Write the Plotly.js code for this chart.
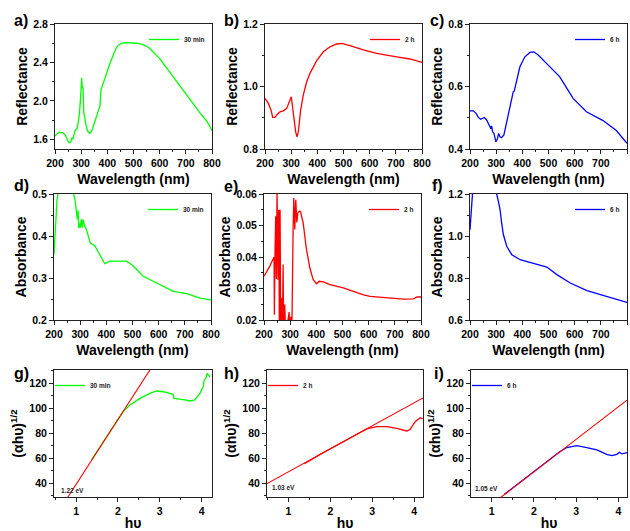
<!DOCTYPE html>
<html><head><meta charset="utf-8">
<script src="https://cdn.plot.ly/plotly-3.0.1.min.js"></script>
<style>html,body{margin:0;padding:0;background:#fff}#chart{width:630px;height:531px}</style>
</head><body><div id="chart"></div>
<script>
// ---------- DATA ----------
// a) Reflectance, 30 min
const aWave = [200,208,217,225,232,240,245,251,256,260,264,268,273,276,280,285,289,293,297,299,302,304,305,307,310,314,318,323,327,332,336,342,348,353,360,366,372,374,376,385,397,410,423,432,442,455,474,490,512,530,544,560,576,600,627,660,690,720,754,780,800];
const aRefl = [1.634,1.66,1.676,1.674,1.665,1.64,1.60,1.572,1.565,1.57,1.617,1.60,1.65,1.69,1.70,1.72,1.78,1.86,2.0,2.15,2.24,2.13,2.15,2.14,1.88,1.80,1.755,1.70,1.676,1.665,1.67,1.70,1.75,1.807,1.85,1.90,1.95,2.05,2.117,2.19,2.29,2.39,2.48,2.54,2.58,2.60,2.607,2.605,2.60,2.59,2.576,2.55,2.51,2.44,2.34,2.22,2.10,1.99,1.876,1.79,1.692];
// b) Reflectance, 2 h
const bWave = [200,212.7,223,229.3,238.2,244.6,257.3,270,282.8,291.7,300.6,304.5,310.8,317.2,322.3,327.4,336.3,346.5,359.2,372,397.5,423,448.4,474,493,524.8,575.8,626.8,703.2,754,800];
const bRefl = [0.962,0.946,0.925,0.901,0.901,0.909,0.919,0.922,0.93,0.946,0.967,0.94,0.893,0.855,0.839,0.855,0.925,0.973,1.015,1.042,1.083,1.111,1.127,1.136,1.138,1.131,1.117,1.106,1.095,1.088,1.077];
// c) Reflectance, 6 h
const cWave = [200,212.7,222.9,231.8,240.7,248.3,254.7,263.6,273.7,280,282.6,286.4,291.5,299.1,304.2,309.3,314.4,320.7,329.6,339.8,352.5,365.2,369,371.6,378,390.7,409.7,428.8,444,460.6,492.3,543.2,594,644.9,708.4,759.2,800];
const cRefl = [0.522,0.522,0.514,0.501,0.495,0.497,0.501,0.493,0.477,0.465,0.474,0.455,0.45,0.423,0.431,0.45,0.439,0.436,0.445,0.482,0.535,0.583,0.585,0.594,0.621,0.663,0.695,0.709,0.711,0.701,0.674,0.631,0.562,0.519,0.491,0.459,0.418];
// d) Absorbance, 30 min
const dWave = [200,206,211.5,215,218,240,265,275,280,285.5,289,292,294.5,298,301,304.7,308.5,311,317.5,324,330,339,355.7,368.5,381,394,403,413,440,477,502,541,592,656,707,758,800];
const dAbs  = [0.356,0.439,0.487,0.5,0.52,0.56,0.55,0.5,0.487,0.459,0.44,0.461,0.419,0.43,0.42,0.44,0.42,0.439,0.423,0.415,0.403,0.383,0.377,0.363,0.348,0.334,0.337,0.34,0.34,0.34,0.329,0.304,0.288,0.268,0.263,0.252,0.248];
// e) Absorbance, 2 h
const eWave = [200,221.7,238.4,239.7,242.2,244.8,247.3,249.9,253.7,256.3,258.8,261.4,264,266.5,270.4,272.9,275.5,279.3,283.2,296,298.5,302.3,306.2,311.3,313.9,317.7,321.5,325.4,329.2,334.3,339.4,349.7,362.5,375.3,388,400.8,411,426.4,452,503,554.4,580,605.5,669.5,733.5,771.8,784.5,800];
const eAbs  = [0.0339,0.037,0.040,0.0217,0.042,0.0529,0.033,0.061,0.0328,0.055,0.015,0.055,0.015,0.027,0.015,0.0376,0.015,0.0249,0.015,0.0225,0.015,0.021,0.015,0.0487,0.0587,0.0487,0.0582,0.051,0.054,0.0545,0.0545,0.0508,0.0423,0.0365,0.0328,0.0315,0.0323,0.0321,0.0312,0.0302,0.0286,0.028,0.0275,0.027,0.0266,0.0267,0.0273,0.0273];
// f) Absorbance, 6 h
const fWave = [200,203.8,209,215,300,302,311,315,321,327.7,340.4,359.6,391.5,442.6,493.6,532,583,646.8,710.6,800];
const fAbs  = [1.03,1.125,1.2,1.3,1.3,1.2,1.149,1.125,1.062,1.006,0.951,0.911,0.887,0.871,0.852,0.816,0.776,0.74,0.716,0.684];
// g) Tauc, 30 min
const gHv = [1.37,1.6,1.8,2.0,2.125,2.285,2.524,2.763,2.923,3.083,3.2,3.32,3.338,3.48,3.6,3.72,3.84,3.96,4.04,4.064,4.1,4.136,4.18,4.2];
const gAh = [59,70.4,80.7,91.1,97.4,102.7,108,112,113.9,113.3,112.3,111.2,108,107.5,106.7,105.9,106.7,112,117.3,122.7,124,128,125.3,125];
const gFitHv = [0.8,2.8];
const gFitAh = [28.8,132.6];
// h) Tauc, 2 h
const hHv = [1.38,1.6,1.8,2.0,2.2,2.4,2.63,2.87,3.109,3.347,3.586,3.825,3.9,4.024,4.143,4.2];
const hAh = [55.6,60.3,63.9,67.6,71.3,75,79.0,83.5,85.3,85.3,84,81.9,83,89.3,92.5,91.5];
const hFitHv = [0.49,4.21];
const hFitAh = [39.8,108.3];
// i) Tauc, 6 h
const iHv = [1.3,1.5,1.7,1.9,2.1,2.3,2.46,2.6,2.776,3.013,3.25,3.487,3.72,3.84,3.96,4.024,4.08,4.14,4.2];
const iAh = [31.2,36.5,41.7,46.9,52.1,57.3,61.5,65,68.6,70.1,68.5,66.7,63.2,62.1,63.2,64.8,63.5,63.8,64.5];
const iFitHv = [1.2,4.2];
const iFitAh = [28.3,106.6];
// labels
const seriesNames = ['30 min','2 h','6 h'];
const gapLabels = ['1.22 eV','1.03 eV','1.05 eV'];
const panelLetters = ['a)','b)','c)','d)','e)','f)','g)','h)','i)'];

// ---------- STYLE / LAYOUT ----------
const W = 630, H = 531;
const fx = v => v / W, fy = v => 1 - v / H;
const colors = ['#00ff00', '#ff0000', '#0000ff'];
const FONT = 'Liberation Sans, Arial, sans-serif';

const panels = [
  {x:aWave, y:aRefl, xd:[55,212],  yd:[24,149],  xr:[200,800], yr:[1.5,2.8], ydt:0.4, yt0:1.6, yf:'.1f', c:0, kind:'w', yt:'Reflectance'},
  {x:bWave, y:bRefl, xd:[265,422], yd:[24,149],  xr:[200,800], yr:[0.8,1.2], ydt:0.2, yt0:0.8, yf:'.1f', c:1, kind:'w', yt:'Reflectance'},
  {x:cWave, y:cRefl, xd:[470,627], yd:[24,149],  xr:[200,800], yr:[0.4,0.8], ydt:0.2, yt0:0.4, yf:'.1f', c:2, kind:'w', yt:'Reflectance'},
  {x:dWave, y:dAbs,  xd:[54,211],  yd:[194,320], xr:[200,800], yr:[0.2,0.5], ydt:0.1, yt0:0.2, yf:'.1f', c:0, kind:'w', yt:'Absorbance'},
  {x:eWave, y:eAbs,  xd:[264,421], yd:[194,320], xr:[200,800], yr:[0.02,0.06], ydt:0.01, yt0:0.02, yf:'.2f', c:1, kind:'w', yt:'Absorbance'},
  {x:fWave, y:fAbs,  xd:[470,627], yd:[194,320], xr:[200,800], yr:[0.6,1.2], ydt:0.2, yt0:0.6, yf:'.1f', c:2, kind:'w', yt:'Absorbance'},
  {x:gHv, y:gAh, fx:gFitHv, fy:gFitAh, xd:[54,212],  yd:[370,497], xr:[0.47,4.25], yr:[29,130.7], ydt:20, yt0:40, yf:'d', c:0, kind:'t', yt:'(αhυ)<sup>1/2</sup>'},
  {x:hHv, y:hAh, fx:hFitHv, fy:hFitAh, xd:[267,423], yd:[370,497], xr:[0.49,4.21], yr:[29,130.7], ydt:20, yt0:40, yf:'d', c:1, kind:'t', yt:'(αhυ)<sup>1/2</sup>'},
  {x:iHv, y:iAh, fx:iFitHv, fy:iFitAh, xd:[471,627], yd:[370,497], xr:[0.51,4.2],  yr:[29,130.7], ydt:20, yt0:40, yf:'d', c:2, kind:'t', yt:'(αhυ)<sup>1/2</sup>'}
];
const letterPos = [[12,21],[222,21],[428,21],[12,185],[222,186],[430,185],[12,373],[222,373],[432,373]];
const gapPos = [[72,490],[283,487],[486,488]];

const data = [];
const layout = {
  width: W, height: H, margin: {l:0, r:0, t:0, b:0},
  paper_bgcolor: '#fff', plot_bgcolor: '#fff',
  font: {family: FONT, color: '#000'},
  annotations: [], showlegend: true
};

panels.forEach((p, k) => {
  const n = k + 1, sfx = n === 1 ? '' : String(n);
  const legName = 'legend' + sfx;
  data.push({
    type: 'scatter', mode: 'lines', x: p.x, y: p.y, name: seriesNames[p.c],
    xaxis: 'x' + sfx, yaxis: 'y' + sfx, legend: legName,
    line: {color: colors[p.c], width: 1.3}
  });
  if (p.fx) {
    data.push({
      type: 'scatter', mode: 'lines', x: p.fx, y: p.fy, showlegend: false,
      xaxis: 'x' + sfx, yaxis: 'y' + sfx, line: {color: '#ff0000', width: 1.1}
    });
  }
  const isW = p.kind === 'w';
  layout['xaxis' + sfx] = {
    domain: [fx(p.xd[0]), fx(p.xd[1])], range: p.xr, anchor: 'y' + sfx,
    showgrid: false, zeroline: false, showline: true, linecolor: '#222', linewidth: 1, mirror: true,
    ticks: 'outside', ticklen: 4, tickwidth: 1, tickcolor: '#222',
    tick0: isW ? 200 : 1, dtick: isW ? 100 : 1,
    minor: {ticks: 'outside', ticklen: 2, tickcolor: '#222', dtick: isW ? 50 : 0.5, tick0: isW ? 200 : 1},
    tickfont: {family: FONT, size: 10.5, weight: 'bold', color: '#000'},
    title: {text: isW ? 'Wavelength (nm)' : 'hυ', font: {family: FONT, size: 14, weight: 'bold', color: '#000'}, standoff: isW ? 6 : 10}
  };
  layout['yaxis' + sfx] = {
    domain: [fy(p.yd[1]), fy(p.yd[0])], range: p.yr, anchor: 'x' + sfx,
    showgrid: false, zeroline: false, showline: true, linecolor: '#222', linewidth: 1, mirror: true,
    ticks: 'outside', ticklen: 4, tickwidth: 1, tickcolor: '#222',
    tick0: p.yt0, dtick: p.ydt, tickformat: p.yf,
    minor: {ticks: 'outside', ticklen: 2, tickcolor: '#222', dtick: p.ydt / 2, tick0: p.yt0},
    tickfont: {family: FONT, size: 10.5, weight: 'bold', color: '#000'},
    title: {text: p.yt, font: {family: FONT, size: 14, weight: 'bold', color: '#000'}, standoff: 2}
  };
  layout[legName] = isW
    ? {x: fx(p.xd[1] - 2), y: fy(p.yd[0] + 1), xanchor: 'right', yanchor: 'top', bgcolor: 'rgba(0,0,0,0)', borderwidth: 0,
       font: {family: FONT, size: 6.5, weight: 'bold', color: '#222'}, itemwidth: 30}
    : {x: fx(p.xd[0] - 4), y: fy(p.yd[0] + 1), xanchor: 'left', yanchor: 'top', bgcolor: 'rgba(0,0,0,0)', borderwidth: 0,
       font: {family: FONT, size: 6.5, weight: 'bold', color: '#222'}, itemwidth: 30};
  layout.annotations.push({
    text: panelLetters[k], xref: 'paper', yref: 'paper', x: fx(letterPos[k][0]), y: fy(letterPos[k][1]),
    xanchor: 'left', yanchor: 'middle', showarrow: false,
    font: {family: FONT, size: 16, weight: 'bold', color: '#000'}
  });
  if (!isW) {
    const gi = k - 6;
    layout.annotations.push({
      text: gapLabels[gi], xref: 'paper', yref: 'paper', x: fx(gapPos[gi][0]), y: fy(gapPos[gi][1]),
      xanchor: 'center', yanchor: 'middle', showarrow: false,
      font: {family: FONT, size: 6.5, weight: 'bold', color: '#222'}
    });
  }
});

Plotly.newPlot('chart', data, layout, {staticPlot: true, displayModeBar: false});
</script></body></html>
